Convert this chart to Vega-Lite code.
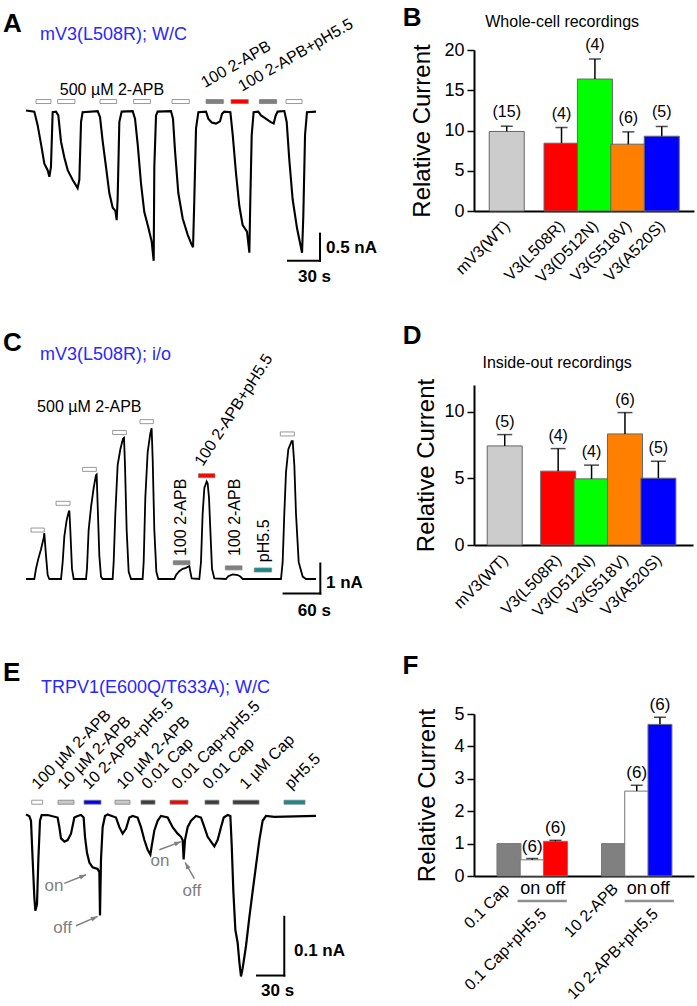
{
"$schema": "https://vega.github.io/schema/vega-lite/v6.json",
"padding": {"left": 2, "top": 5, "right": 5, "bottom": 3},
"background": "white",
"bounds": "flush",
"align": "each",
"columns": 2,
"spacing": {"row": 10, "column": 148},
"resolve": {"scale": {"fill": "independent"}},
"config": {
 "font": "Liberation Sans",
 "view": {"stroke": null},
 "text": {"font": "Liberation Sans", "fontSize": 16, "color": "black"},
 "axis": {"domainColor": "black", "domainWidth": 2, "tickColor": "black", "tickWidth": 1.5, "labelColor": "black", "labelFont": "Liberation Sans", "labelFontSize": 18, "titleColor": "black", "titleFont": "Liberation Sans", "titleFontSize": 24, "titleFontWeight": "normal", "grid": false}
},
"datasets": {
 "aTrace": [{"t":0,"i":0},{"t":7.8,"i":-0.02},{"t":10.9,"i":-0.27},{"t":14.1,"i":-0.62},{"t":17.2,"i":-0.98},{"t":20.3,"i":-1.10},{"t":21.9,"i":-1.22},{"t":23.4,"i":-1.04},{"t":25.0,"i":-0.03},{"t":28.1,"i":-0.02},{"t":30.3,"i":-0.09},{"t":32.8,"i":-0.57},{"t":35.9,"i":-0.86},{"t":39.1,"i":-1.10},{"t":43.8,"i":-1.28},{"t":48.4,"i":-1.43},{"t":50.0,"i":-1.28},{"t":51.6,"i":-0.21},{"t":53.1,"i":-0.03},{"t":67.2,"i":-0.01},{"t":69.4,"i":-0.12},{"t":71.9,"i":-0.57},{"t":75.0,"i":-1.04},{"t":78.1,"i":-1.52},{"t":81.3,"i":-1.79},{"t":83.8,"i":-1.85},{"t":85.0,"i":-2.02},{"t":85.9,"i":-1.64},{"t":87.5,"i":-0.21},{"t":89.7,"i":-0.02},{"t":100.0,"i":-0.01},{"t":102.2,"i":-0.15},{"t":104.7,"i":-0.62},{"t":107.8,"i":-1.34},{"t":110.9,"i":-1.87},{"t":114.1,"i":-2.11},{"t":117.8,"i":-2.41},{"t":119.7,"i":-2.77},{"t":120.3,"i":-1.04},{"t":121.9,"i":-0.09},{"t":123.4,"i":-0.02},{"t":135.9,"i":-0.01},{"t":137.8,"i":-0.15},{"t":139.7,"i":-0.74},{"t":142.8,"i":-1.52},{"t":146.9,"i":-1.99},{"t":151.6,"i":-2.29},{"t":155.3,"i":-2.47},{"t":156.6,"i":-2.52},{"t":157.8,"i":-1.64},{"t":159.4,"i":-0.33},{"t":161.6,"i":-0.03},{"t":168.8,"i":-0.02},{"t":170.9,"i":-0.15},{"t":174.1,"i":-0.22},{"t":178.1,"i":-0.24},{"t":181.9,"i":-0.20},{"t":183.8,"i":-0.06},{"t":185.9,"i":-0.02},{"t":191.6,"i":-0.03},{"t":193.8,"i":-0.45},{"t":196.9,"i":-1.16},{"t":200.0,"i":-1.76},{"t":203.1,"i":-2.11},{"t":207.2,"i":-2.23},{"t":209.4,"i":-2.62},{"t":210.3,"i":-1.64},{"t":211.6,"i":-0.45},{"t":213.4,"i":-0.03},{"t":217.8,"i":-0.02},{"t":220.3,"i":-0.09},{"t":224.1,"i":-0.14},{"t":229.1,"i":-0.21},{"t":232.2,"i":-0.24},{"t":234.1,"i":-0.09},{"t":235.9,"i":-0.02},{"t":242.2,"i":-0.01},{"t":244.4,"i":-0.21},{"t":246.9,"i":-0.92},{"t":250.0,"i":-1.64},{"t":254.1,"i":-2.17},{"t":257.2,"i":-2.47},{"t":258.8,"i":-2.62},{"t":260.0,"i":-1.93},{"t":261.6,"i":-0.45},{"t":263.4,"i":-0.03},{"t":271.9,"i":-0.02}],
 "aStim": [{"t":9.4,"t2":23.4,"i":0.166,"kind":"open"},{"t":29.7,"t2":45.9,"i":0.166,"kind":"open"},{"t":69.4,"t2":85.0,"i":0.166,"kind":"open"},{"t":100.9,"t2":116.6,"i":0.166,"kind":"open"},{"t":136.9,"t2":153.1,"i":0.166,"kind":"open"},{"t":168.8,"t2":185.0,"i":0.166,"kind":"gray"},{"t":192.2,"t2":208.4,"i":0.166,"kind":"red"},{"t":218.8,"t2":235.0,"i":0.166,"kind":"gray"},{"t":243.8,"t2":258.8,"i":0.166,"kind":"open"}],
 "cTrace": [{"t":0,"i":0},{"t":13.6,"i":0},{"t":16.3,"i":0.34},{"t":20.1,"i":0.67},{"t":24.5,"i":0.99},{"t":28.9,"i":1.37},{"t":29.9,"i":1.53},{"t":32.7,"i":0.77},{"t":35.4,"i":0.13},{"t":38.1,"i":0},{"t":57.2,"i":0},{"t":59.9,"i":0.56},{"t":62.6,"i":1.42},{"t":66.4,"i":1.96},{"t":69.7,"i":2.23},{"t":70.8,"i":2.28},{"t":72.4,"i":1.63},{"t":75.1,"i":0.34},{"t":77.9,"i":0},{"t":98.0,"i":0},{"t":99.6,"i":0.34},{"t":102.3,"i":1.63},{"t":106.2,"i":2.39},{"t":110.5,"i":3.03},{"t":114.3,"i":3.46},{"t":115.4,"i":3.48},{"t":117.0,"i":2.49},{"t":119.8,"i":0.77},{"t":122.5,"i":0.08},{"t":125.2,"i":0},{"t":141.5,"i":0},{"t":143.2,"i":0.56},{"t":145.9,"i":2.17},{"t":149.7,"i":3.79},{"t":154.1,"i":4.32},{"t":158.4,"i":4.67},{"t":160.1,"i":4.70},{"t":161.7,"i":3.79},{"t":164.4,"i":1.63},{"t":167.7,"i":0.24},{"t":171.5,"i":0},{"t":190.5,"i":0},{"t":192.2,"i":0.56},{"t":194.9,"i":2.71},{"t":198.7,"i":4.22},{"t":203.1,"i":4.86},{"t":205.2,"i":5.02},{"t":206.9,"i":4.0},{"t":209.6,"i":1.63},{"t":212.9,"i":0.24},{"t":216.1,"i":0},{"t":242.3,"i":0},{"t":245.0,"i":0.13},{"t":250.4,"i":0.26},{"t":255.9,"i":0.34},{"t":261.3,"i":0.37},{"t":266.8,"i":0.43},{"t":268.4,"i":0.24},{"t":270.6,"i":0.02},{"t":283.1,"i":0},{"t":285.8,"i":0.56},{"t":288.5,"i":2.17},{"t":291.3,"i":3.03},{"t":295.1,"i":3.25},{"t":296.7,"i":3.19},{"t":298.9,"i":2.71},{"t":301.1,"i":1.63},{"t":303.8,"i":0.34},{"t":307.6,"i":0.02},{"t":326.6,"i":0},{"t":330.4,"i":0.09},{"t":337.5,"i":0.15},{"t":345.7,"i":0.13},{"t":350.1,"i":0.08},{"t":353.9,"i":0},{"t":416.5,"i":0},{"t":419.2,"i":0.56},{"t":421.9,"i":2.17},{"t":424.7,"i":3.57},{"t":428.5,"i":4.32},{"t":433.9,"i":4.59},{"t":435.6,"i":4.59},{"t":438.3,"i":3.79},{"t":441.0,"i":2.17},{"t":445.4,"i":0.56},{"t":451.9,"i":0.08},{"t":457.3,"i":0},{"t":473.6,"i":0}],
 "cStim": [{"t":8.2,"t2":29.9,"i":1.63,"kind":"open"},{"t":49.0,"t2":71.9,"i":2.52,"kind":"open"},{"t":92.5,"t2":114.9,"i":3.65,"kind":"open"},{"t":141.5,"t2":163.9,"i":4.88,"kind":"open"},{"t":186.2,"t2":208.0,"i":5.24,"kind":"open"},{"t":240.6,"t2":267.8,"i":0.54,"kind":"gray"},{"t":281.5,"t2":308.7,"i":3.44,"kind":"red"},{"t":325.6,"t2":352.8,"i":0.37,"kind":"gray"},{"t":372.9,"t2":401.2,"i":0.30,"kind":"teal"},{"t":415.4,"t2":438.3,"i":4.83,"kind":"open"}],
 "eTrace": [{"t":0,"i":0.0027},{"t":3.7,"i":-0.0005},{"t":5.5,"i":-0.0082},{"t":7.3,"i":-0.0738},{"t":9.2,"i":-0.1393},{"t":10.3,"i":-0.1612},{"t":12.1,"i":-0.1503},{"t":13.6,"i":-0.0738},{"t":15.4,"i":-0.0082},{"t":17.2,"i":0.0016},{"t":23.8,"i":0.0016},{"t":34.8,"i":-0.0027},{"t":36.7,"i":-0.0191},{"t":38.5,"i":-0.0382},{"t":42.2,"i":-0.0437},{"t":45.8,"i":-0.0410},{"t":49.5,"i":-0.0301},{"t":53.2,"i":-0.0027},{"t":56.8,"i":0},{"t":60.5,"i":0.0016},{"t":63.4,"i":-0.0027},{"t":64.9,"i":-0.0355},{"t":67.1,"i":-0.0628},{"t":69.7,"i":-0.0792},{"t":73.3,"i":-0.0874},{"t":78.8,"i":-0.0902},{"t":80.7,"i":-0.0956},{"t":81.4,"i":-0.1694},{"t":82.5,"i":-0.0738},{"t":84.3,"i":-0.0191},{"t":86.9,"i":0},{"t":89.8,"i":0.0027},{"t":99.0,"i":-0.0027},{"t":102.7,"i":-0.0191},{"t":106.3,"i":-0.0301},{"t":110.0,"i":-0.0219},{"t":113.7,"i":-0.0027},{"t":117.3,"i":0},{"t":122.8,"i":-0.0027},{"t":126.5,"i":-0.0191},{"t":130.2,"i":-0.0410},{"t":133.8,"i":-0.0574},{"t":136.8,"i":-0.0656},{"t":138.2,"i":-0.0519},{"t":141.2,"i":-0.0246},{"t":144.8,"i":-0.0082},{"t":148.5,"i":0},{"t":155.8,"i":-0.0027},{"t":161.3,"i":-0.0191},{"t":166.8,"i":-0.0301},{"t":170.5,"i":-0.0355},{"t":172.3,"i":-0.0410},{"t":173.4,"i":-0.0738},{"t":174.9,"i":-0.0410},{"t":177.8,"i":-0.0191},{"t":181.5,"i":-0.0082},{"t":187.0,"i":0},{"t":192.5,"i":-0.0027},{"t":196.2,"i":-0.0191},{"t":199.8,"i":-0.0355},{"t":203.5,"i":-0.0437},{"t":207.2,"i":-0.0519},{"t":210.8,"i":-0.0410},{"t":214.5,"i":-0.0191},{"t":217.5,"i":-0.0027},{"t":221.8,"i":0.0016},{"t":224.8,"i":0},{"t":226.2,"i":-0.0464},{"t":228.1,"i":-0.1284},{"t":230.3,"i":-0.1940},{"t":232.8,"i":-0.2158},{"t":234.7,"i":-0.2486},{"t":236.5,"i":-0.2732},{"t":238.3,"i":-0.2595},{"t":242.0,"i":-0.2213},{"t":245.7,"i":-0.1721},{"t":249.3,"i":-0.1284},{"t":253.0,"i":-0.0847},{"t":256.7,"i":-0.0410},{"t":260.3,"i":-0.0082},{"t":264.0,"i":0},{"t":273.2,"i":-0.0016},{"t":319.0,"i":0}],
 "eStim": [{"t":6.3,"t2":18.3,"i":0.0234,"kind":"open"},{"t":35.2,"t2":52.8,"i":0.0234,"kind":"light"},{"t":63.8,"t2":82.5,"i":0.0234,"kind":"blue"},{"t":97.9,"t2":114.4,"i":0.0234,"kind":"light"},{"t":126.5,"t2":141.9,"i":0.0234,"kind":"dark"},{"t":158.4,"t2":178.2,"i":0.0234,"kind":"red"},{"t":196.9,"t2":212.3,"i":0.0234,"kind":"dark"},{"t":227.7,"t2":256.3,"i":0.0234,"kind":"dark"},{"t":283.8,"t2":306.9,"i":0.0234,"kind":"teal"}],
 "bBars": [{"name":"mV3(WT)","p":0.83,"v":9.88,"e":10.54,"n":"(15)"},{"name":"V3(L508R)","p":2.47,"v":8.42,"e":10.37,"n":"(4)"},{"name":"V3(D512N)","p":3.47,"v":16.39,"e":18.88,"n":"(4)"},{"name":"V3(S518V)","p":4.47,"v":8.30,"e":9.83,"n":"(6)"},{"name":"V3(A520S)","p":5.47,"v":9.29,"e":10.50,"n":"(5)"}],
 "dBars": [{"name":"mV3(WT)","p":0.77,"v":7.43,"e":8.28,"n":"(5)"},{"name":"V3(L508R)","p":2.37,"v":5.54,"e":7.23,"n":"(4)"},{"name":"V3(D512N)","p":3.37,"v":4.96,"e":5.99,"n":"(4)"},{"name":"V3(S518V)","p":4.37,"v":8.33,"e":9.93,"n":"(6)"},{"name":"V3(A520S)","p":5.37,"v":5.01,"e":6.28,"n":"(5)"}],
 "fBars": [{"kind":"ctrl","p":1.29,"v":1.0,"e":null,"n":""},{"kind":"on","p":2.29,"v":0.50,"e":0.54,"n":"(6)"},{"kind":"offr","p":3.29,"v":1.07,"e":1.10,"n":"(6)"},{"kind":"ctrl","p":5.79,"v":1.0,"e":null,"n":""},{"kind":"on","p":6.79,"v":2.62,"e":2.80,"n":"(6)"},{"kind":"offb","p":7.79,"v":4.68,"e":4.90,"n":"(6)"}]
},
"concat": [
  {
   "width": 300, "height": 324.6,
   "encoding": {
    "x": {"field": "t", "type": "quantitative", "scale": {"domain": [0, 281.25], "nice": false, "zero": false}, "axis": null},
    "y": {"field": "i", "type": "quantitative", "scale": {"domain": [-4.774, 1.0234], "nice": false, "zero": false}, "axis": null}
   },
   "layer": [
    {"data": {"name": "aTrace"}, "mark": {"type": "line", "color": "black", "strokeWidth": 2.1}},
    {"data": {"name": "aStim"}, "mark": {"type": "bar", "orient": "horizontal", "height": 4, "stroke": "#808080", "strokeWidth": 0.8},
     "encoding": {"x2": {"field": "t2"}, "fill": {"field": "kind", "type": "nominal", "scale": {"domain": ["open","gray","light","dark","red","blue","teal"], "range": ["#ffffff","#808080","#c8c8c8","#3c3c3c","#ff0000","#0000ff","#138c8c"]}, "legend": null}}},
    {"data": {"values": [{"t": -21.6, "i": 1.452, "label": "A"}]}, "mark": {"type": "text", "align": "left", "baseline": "alphabetic", "fontSize": 26, "fontWeight": "bold"}, "encoding": {"text": {"field": "label"}}},
    {"data": {"values": [{"t": 13.1, "i": 1.309, "label": "mV3(L508R); W/C"}]}, "mark": {"type": "text", "align": "left", "baseline": "alphabetic", "fontSize": 18, "color": "#2828ff"}, "encoding": {"text": {"field": "label"}}},
    {"data": {"values": [{"t": 80.6, "i": 0.291, "label": "500 µM 2-APB"}]}, "mark": {"type": "text", "align": "center", "baseline": "alphabetic", "fontSize": 16}, "encoding": {"text": {"field": "label"}}},
    {"data": {"values": [{"t": 167.8, "i": 0.416, "label": "100 2-APB"}, {"t": 202.5, "i": 0.345, "label": "100 2-APB+pH5.5"}]}, "mark": {"type": "text", "align": "left", "baseline": "alphabetic", "fontSize": 16, "angle": 330}, "encoding": {"text": {"field": "label"}}},
    {"data": {"values": [{"t": 245.6, "t2": 275.6, "i": -2.768, "i2": -2.768}, {"t": 275.6, "t2": 275.6, "i": -2.768, "i2": -2.268}]}, "mark": {"type": "rule", "color": "black", "strokeWidth": 2, "strokeCap": "square"}, "encoding": {"x2": {"field": "t2"}, "y2": {"field": "i2"}}},
    {"data": {"values": [{"t": 281.25, "i": -2.53, "label": "0.5 nA"}]}, "mark": {"type": "text", "align": "left", "baseline": "middle", "fontSize": 17, "fontWeight": "bold"}, "encoding": {"text": {"field": "label"}}},
    {"data": {"values": [{"t": 270.5, "i": -3.06, "label": "30 s"}]}, "mark": {"type": "text", "align": "center", "baseline": "middle", "fontSize": 17, "fontWeight": "bold"}, "encoding": {"text": {"field": "label"}}}
   ]
  },
  {
   "width": 220, "height": 161,
   "encoding": {
    "x": {"field": "p", "type": "quantitative", "scale": {"domain": [0, 6.286], "nice": false, "zero": false}, "axis": {"values": [0.83, 2.47, 3.47, 4.47, 5.47], "labelExpr": "datum.value < 1.5 ? 'mV3(WT)' : datum.value < 3 ? 'V3(L508R)' : datum.value < 4 ? 'V3(D512N)' : datum.value < 5 ? 'V3(S518V)' : 'V3(A520S)'", "ticks": false, "labelAngle": -45, "labelAlign": "right", "labelBaseline": "middle", "labelPadding": 12, "labelFontSize": 16, "title": null, "labelOverlap": false, "labelBound": false, "labelFlush": false}},
    "y": {"field": "v", "type": "quantitative", "scale": {"domain": [0, 20], "nice": false, "zero": false}, "axis": {"values": [0, 5, 10, 15, 20], "tickSize": 7, "title": "Relative Current", "titlePadding": 9, "labelPadding": 3}}
   },
   "layer": [
    {"data": {"name": "bBars"}, "mark": {"type": "bar", "orient": "vertical", "width": 35, "stroke": "#666666", "strokeWidth": 1},
     "encoding": {"fill": {"field": "name", "type": "nominal", "scale": {"domain": ["mV3(WT)", "V3(L508R)", "V3(D512N)", "V3(S518V)", "V3(A520S)"], "range": ["#cccccc", "#ff0000", "#00ff00", "#ff8000", "#0000ff"]}, "legend": null}}},
    {"data": {"name": "bBars"}, "mark": {"type": "rule", "color": "black", "strokeWidth": 1.5}, "encoding": {"y2": {"field": "e"}}},
    {"data": {"name": "bBars"}, "mark": {"type": "tick", "orient": "horizontal", "size": 12, "thickness": 1.5, "color": "black"}, "encoding": {"y": {"field": "e", "type": "quantitative", "scale": {"domain": [0, 20], "nice": false, "zero": false}, "axis": {"values": [0, 5, 10, 15, 20], "tickSize": 7, "title": "Relative Current", "titlePadding": 9, "labelPadding": 3}}}},
    {"data": {"name": "bBars"}, "mark": {"type": "text", "baseline": "bottom", "dy": -6, "fontSize": 16}, "encoding": {"y": {"field": "e", "type": "quantitative", "scale": {"domain": [0, 20], "nice": false, "zero": false}, "axis": {"values": [0, 5, 10, 15, 20], "tickSize": 7, "title": "Relative Current", "titlePadding": 9, "labelPadding": 3}}, "text": {"field": "n"}}},
    {"data": {"values": [{"v": 2.5}, {"v": 7.5}, {"v": 12.5}, {"v": 17.5}]}, "mark": {"type": "rule", "color": "black", "strokeWidth": 1.5}, "encoding": {"x": {"datum": -0.12, "type": "quantitative", "scale": {"domain": [0, 6.286], "nice": false, "zero": false}, "axis": {"values": [0.83, 2.47, 3.47, 4.47, 5.47], "labelExpr": "datum.value < 1.5 ? 'mV3(WT)' : datum.value < 3 ? 'V3(L508R)' : datum.value < 4 ? 'V3(D512N)' : datum.value < 5 ? 'V3(S518V)' : 'V3(A520S)'", "ticks": false, "labelAngle": -45, "labelAlign": "right", "labelBaseline": "middle", "labelPadding": 12, "labelFontSize": 16, "title": null, "labelOverlap": false, "labelBound": false, "labelFlush": false}}, "x2": {"datum": 0}}},
    {"data": {"values": [{"p": 2.49, "v": 22.86, "label": "Whole-cell recordings"}]}, "mark": {"type": "text", "align": "center", "baseline": "alphabetic", "fontSize": 16}, "encoding": {"text": {"field": "label"}}},
    {"data": {"values": [{"p": -2.286, "v": 22.98, "label": "B"}]}, "mark": {"type": "text", "align": "left", "baseline": "alphabetic", "fontSize": 26, "fontWeight": "bold"}, "encoding": {"text": {"field": "label"}}}
   ]
  },
  {
   "width": 300, "height": 318.7,
   "encoding": {
    "x": {"field": "t", "type": "quantitative", "scale": {"domain": [0, 490], "nice": false, "zero": false}, "axis": null},
    "y": {"field": "i", "type": "quantitative", "scale": {"domain": [-3.987, 6.294], "nice": false, "zero": false}, "axis": null}
   },
   "layer": [
    {"data": {"name": "cTrace"}, "mark": {"type": "line", "color": "black", "strokeWidth": 1.8}},
    {"data": {"name": "cStim"}, "mark": {"type": "bar", "orient": "horizontal", "height": 4, "stroke": "#808080", "strokeWidth": 0.8},
     "encoding": {"x2": {"field": "t2"}, "fill": {"field": "kind", "type": "nominal", "scale": {"domain": ["open","gray","light","dark","red","blue","teal"], "range": ["#ffffff","#808080","#c8c8c8","#3c3c3c","#ff0000","#0000ff","#138c8c"]}, "legend": null}}},
    {"data": {"values": [{"t": -37.6, "i": 7.604, "label": "C"}]}, "mark": {"type": "text", "align": "left", "baseline": "alphabetic", "fontSize": 26, "fontWeight": "bold"}, "encoding": {"text": {"field": "label"}}},
    {"data": {"values": [{"t": 22.9, "i": 7.282, "label": "mV3(L508R); i/o"}]}, "mark": {"type": "text", "align": "left", "baseline": "alphabetic", "fontSize": 18, "color": "#2828ff"}, "encoding": {"text": {"field": "label"}}},
    {"data": {"values": [{"t": 103.4, "i": 5.562, "label": "500 µM 2-APB"}]}, "mark": {"type": "text", "align": "center", "baseline": "alphabetic", "fontSize": 16}, "encoding": {"text": {"field": "label"}}},
    {"data": {"values": [{"t": 253.2, "i": 0.765, "label": "100 2-APB"}, {"t": 341.4, "i": 0.765, "label": "100 2-APB"}, {"t": 389.2, "i": 0.561, "label": "pH5.5"}]}, "mark": {"type": "text", "align": "left", "baseline": "middle", "fontSize": 16, "angle": 270}, "encoding": {"text": {"field": "label"}}},
    {"data": {"values": [{"t": 288.6, "i": 3.733, "label": "100 2-APB+pH5.5"}]}, "mark": {"type": "text", "align": "left", "baseline": "alphabetic", "fontSize": 16, "angle": 303}, "encoding": {"text": {"field": "label"}}},
    {"data": {"values": [{"t": 420.7, "t2": 480.7, "i": -0.484, "i2": -0.484}, {"t": 480.7, "t2": 480.7, "i": -0.484, "i2": 0.516}]}, "mark": {"type": "rule", "color": "black", "strokeWidth": 2, "strokeCap": "square"}, "encoding": {"x2": {"field": "t2"}, "y2": {"field": "i2"}}},
    {"data": {"values": [{"t": 490, "i": -0.139, "label": "1 nA"}]}, "mark": {"type": "text", "align": "left", "baseline": "middle", "fontSize": 17, "fontWeight": "bold"}, "encoding": {"text": {"field": "label"}}},
    {"data": {"values": [{"t": 470.9, "i": -1.052, "label": "60 s"}]}, "mark": {"type": "text", "align": "center", "baseline": "middle", "fontSize": 17, "fontWeight": "bold"}, "encoding": {"text": {"field": "label"}}}
   ]
  },
  {
   "width": 219, "height": 160,
   "encoding": {
    "x": {"field": "p", "type": "quantitative", "scale": {"domain": [0, 6.257], "nice": false, "zero": false}, "axis": {"values": [0.77, 2.37, 3.37, 4.37, 5.37], "labelExpr": "datum.value < 1.5 ? 'mV3(WT)' : datum.value < 3 ? 'V3(L508R)' : datum.value < 4 ? 'V3(D512N)' : datum.value < 5 ? 'V3(S518V)' : 'V3(A520S)'", "ticks": false, "labelAngle": -45, "labelAlign": "right", "labelBaseline": "middle", "labelPadding": 12, "labelFontSize": 16, "title": null, "labelOverlap": false, "labelBound": false, "labelFlush": false}},
    "y": {"field": "v", "type": "quantitative", "scale": {"domain": [0, 12], "nice": false, "zero": false}, "axis": {"values": [0, 5, 10], "tickSize": 7, "title": "Relative Current", "titlePadding": 5, "labelPadding": 3}}
   },
   "layer": [
    {"data": {"name": "dBars"}, "mark": {"type": "bar", "orient": "vertical", "width": 35, "stroke": "#666666", "strokeWidth": 1},
     "encoding": {"fill": {"field": "name", "type": "nominal", "scale": {"domain": ["mV3(WT)", "V3(L508R)", "V3(D512N)", "V3(S518V)", "V3(A520S)"], "range": ["#cccccc", "#ff0000", "#00ff00", "#ff8000", "#0000ff"]}, "legend": null}}},
    {"data": {"name": "dBars"}, "mark": {"type": "rule", "color": "black", "strokeWidth": 1.5}, "encoding": {"y2": {"field": "e"}}},
    {"data": {"name": "dBars"}, "mark": {"type": "tick", "orient": "horizontal", "size": 15, "thickness": 1.5, "color": "black"}, "encoding": {"y": {"field": "e", "type": "quantitative", "scale": {"domain": [0, 12], "nice": false, "zero": false}, "axis": {"values": [0, 5, 10], "tickSize": 7, "title": "Relative Current", "titlePadding": 5, "labelPadding": 3}}}},
    {"data": {"name": "dBars"}, "mark": {"type": "text", "baseline": "bottom", "dy": -5, "fontSize": 16}, "encoding": {"y": {"field": "e", "type": "quantitative", "scale": {"domain": [0, 12], "nice": false, "zero": false}, "axis": {"values": [0, 5, 10], "tickSize": 7, "title": "Relative Current", "titlePadding": 5, "labelPadding": 3}}, "text": {"field": "n"}}},
    {"data": {"values": [{"v": 2.5}, {"v": 7.5}]}, "mark": {"type": "rule", "color": "black", "strokeWidth": 1.5}, "encoding": {"x": {"datum": -0.12, "type": "quantitative", "scale": {"domain": [0, 6.257], "nice": false, "zero": false}, "axis": {"values": [0.77, 2.37, 3.37, 4.37, 5.37], "labelExpr": "datum.value < 1.5 ? 'mV3(WT)' : datum.value < 3 ? 'V3(L508R)' : datum.value < 4 ? 'V3(D512N)' : datum.value < 5 ? 'V3(S518V)' : 'V3(A520S)'", "ticks": false, "labelAngle": -45, "labelAlign": "right", "labelBaseline": "middle", "labelPadding": 12, "labelFontSize": 16, "title": null, "labelOverlap": false, "labelBound": false, "labelFlush": false}}, "x2": {"datum": 0}}},
    {"data": {"values": [{"p": 2.34, "v": 13.25, "label": "Inside-out recordings"}]}, "mark": {"type": "text", "align": "center", "baseline": "alphabetic", "fontSize": 16}, "encoding": {"text": {"field": "label"}}},
    {"data": {"values": [{"p": -2.286, "v": 15.05, "label": "D"}]}, "mark": {"type": "text", "align": "left", "baseline": "alphabetic", "fontSize": 26, "fontWeight": "bold"}, "encoding": {"text": {"field": "label"}}}
   ]
  },
  {
   "width": 300, "height": 270,
   "encoding": {
    "x": {"field": "t", "type": "quantitative", "scale": {"domain": [0, 330], "nice": false, "zero": false}, "axis": null},
    "y": {"field": "i", "type": "quantitative", "scale": {"domain": [-0.2775, 0.16505], "nice": false, "zero": false}, "axis": null}
   },
   "layer": [
    {"data": {"name": "eTrace"}, "mark": {"type": "line", "color": "black", "strokeWidth": 2.2}},
    {"data": {"name": "eStim"}, "mark": {"type": "bar", "orient": "horizontal", "height": 4, "stroke": "#808080", "strokeWidth": 0.8},
     "encoding": {"x2": {"field": "t2"}, "fill": {"field": "kind", "type": "nominal", "scale": {"domain": ["open","gray","light","dark","red","blue","teal"], "range": ["#ffffff","#808080","#c8c8c8","#3c3c3c","#ff0000","#0000ff","#138c8c"]}, "legend": null}}},
    {"data": {"values": [{"t": -25.3, "i": 0.2295, "label": "E"}]}, "mark": {"type": "text", "align": "left", "baseline": "alphabetic", "fontSize": 26, "fontWeight": "bold"}, "encoding": {"text": {"field": "label"}}},
    {"data": {"values": [{"t": 16.5, "i": 0.2098, "label": "TRPV1(E600Q/T633A); W/C"}]}, "mark": {"type": "text", "align": "left", "baseline": "alphabetic", "fontSize": 18, "color": "#2828ff"}, "encoding": {"text": {"field": "label"}}},
    {"data": {"values": [{"t": 13.2, "i": 0.0443, "label": "100 µM 2-APB"}, {"t": 41.8, "i": 0.0443, "label": "10 µM 2-APB"}, {"t": 69.3, "i": 0.0443, "label": "10 2-APB+pH5.5"}, {"t": 106.7, "i": 0.0443, "label": "10 µM 2-APB"}, {"t": 134.2, "i": 0.0443, "label": "0.01 Cap"}, {"t": 167.2, "i": 0.0443, "label": "0.01 Cap+pH5.5"}, {"t": 201.3, "i": 0.0443, "label": "0.01 Cap"}, {"t": 242.0, "i": 0.0443, "label": "1 µM Cap"}, {"t": 291.5, "i": 0.0443, "label": "pH5.5"}]}, "mark": {"type": "text", "align": "left", "baseline": "alphabetic", "fontSize": 16, "angle": 315}, "encoding": {"text": {"field": "label"}}},
    {"data": {"values": [{"t": 254.1, "t2": 284.1, "i": -0.2716, "i2": -0.2716}, {"t": 284.1, "t2": 284.1, "i": -0.2716, "i2": -0.1716}]}, "mark": {"type": "rule", "color": "black", "strokeWidth": 2, "strokeCap": "square"}, "encoding": {"x2": {"field": "t2"}, "y2": {"field": "i2"}}},
    {"data": {"values": [{"t": 294.8, "i": -0.2295, "label": "0.1 nA"}]}, "mark": {"type": "text", "align": "left", "baseline": "middle", "fontSize": 17, "fontWeight": "bold"}, "encoding": {"text": {"field": "label"}}},
    {"data": {"values": [{"t": 276.8, "i": -0.2978, "label": "30 s"}]}, "mark": {"type": "text", "align": "center", "baseline": "middle", "fontSize": 17, "fontWeight": "bold"}, "encoding": {"text": {"field": "label"}}},
    {"data": {"values": [{"t": 30.8, "i": -0.1197, "label": "on"}, {"t": 40.3, "i": -0.190, "label": "off"}, {"t": 147.4, "i": -0.0765, "label": "on"}, {"t": 182.4, "i": -0.1278, "label": "off"}]}, "mark": {"type": "text", "align": "center", "baseline": "middle", "fontSize": 17, "color": "#808080"}, "encoding": {"text": {"field": "label"}}},
    {"data": {"values": [{"t": 42.1, "t2": 66.0, "i": -0.1147, "i2": -0.1000}, {"t": 55.0, "t2": 78.8, "i": -0.1868, "i2": -0.1710}, {"t": 146.7, "t2": 170.5, "i": -0.0574, "i2": -0.0437}, {"t": 185.2, "t2": 175.1, "i": -0.1065, "i2": -0.0792}]}, "mark": {"type": "rule", "color": "#808080", "strokeWidth": 1.5}, "encoding": {"x2": {"field": "t2"}, "y2": {"field": "i2"}}},
    {"data": {"values": [{"t": 66.0, "i": -0.1000, "dir": 67}, {"t": 78.8, "i": -0.1710, "dir": 66}, {"t": 170.5, "i": -0.0437, "dir": 69}, {"t": 175.1, "i": -0.0792, "dir": 331}]}, "mark": {"type": "point", "shape": "M0,0L-0.55,1.5L0.55,1.5Z", "filled": true, "color": "#808080", "size": 80, "opacity": 1}, "encoding": {"angle": {"field": "dir", "type": "quantitative", "scale": null}}}
   ]
  },
  {
   "width": 220, "height": 162,
   "encoding": {
    "x": {"field": "p", "type": "quantitative", "scale": {"domain": [0, 9.04], "nice": false, "zero": false}, "axis": {"labels": false, "ticks": false, "title": null}},
    "y": {"field": "v", "type": "quantitative", "scale": {"domain": [0, 5], "nice": false, "zero": false}, "axis": {"values": [0, 1, 2, 3, 4, 5], "tickSize": 7, "title": "Relative Current", "titlePadding": 14, "labelPadding": 3}}
   },
   "layer": [
    {"data": {"name": "fBars"}, "mark": {"type": "bar", "orient": "vertical", "width": 24, "stroke": "#777777", "strokeWidth": 1},
     "encoding": {"fill": {"field": "kind", "type": "nominal", "scale": {"domain": ["ctrl", "on", "offr", "offb"], "range": ["#808080", "#ffffff", "#ff0000", "#0000ff"]}, "legend": null}}},
    {"data": {"name": "fBars"}, "transform": [{"filter": "isValid(datum.e)"}], "mark": {"type": "rule", "color": "black", "strokeWidth": 1.5}, "encoding": {"y2": {"field": "e"}}},
    {"data": {"name": "fBars"}, "transform": [{"filter": "isValid(datum.e)"}], "mark": {"type": "tick", "orient": "horizontal", "size": 12, "thickness": 1.5, "color": "black"}, "encoding": {"y": {"field": "e", "type": "quantitative", "scale": {"domain": [0, 5], "nice": false, "zero": false}, "axis": {"values": [0, 1, 2, 3, 4, 5], "tickSize": 7, "title": "Relative Current", "titlePadding": 14, "labelPadding": 3}}}},
    {"data": {"name": "fBars"}, "transform": [{"filter": "isValid(datum.e)"}], "mark": {"type": "text", "baseline": "bottom", "dy": -3, "fontSize": 17}, "encoding": {"y": {"field": "e", "type": "quantitative", "scale": {"domain": [0, 5], "nice": false, "zero": false}, "axis": {"values": [0, 1, 2, 3, 4, 5], "tickSize": 7, "title": "Relative Current", "titlePadding": 14, "labelPadding": 3}}, "text": {"field": "n"}}},
    {"data": {"values": [{"v": 0.5}, {"v": 1.5}, {"v": 2.5}, {"v": 3.5}, {"v": 4.5}]}, "mark": {"type": "rule", "color": "black", "strokeWidth": 1.5}, "encoding": {"x": {"datum": -0.17, "type": "quantitative", "scale": {"domain": [0, 9.04], "nice": false, "zero": false}, "axis": {"labels": false, "ticks": false, "title": null}}, "x2": {"datum": 0}}},
    {"data": {"values": [{"p": 2.21, "v": -0.565, "label": "on"}, {"p": 3.29, "v": -0.565, "label": "off"}, {"p": 6.79, "v": -0.565, "label": "on"}, {"p": 7.79, "v": -0.565, "label": "off"}]}, "mark": {"type": "text", "align": "center", "baseline": "alphabetic", "fontSize": 18}, "encoding": {"text": {"field": "label"}}},
    {"data": {"values": [{"p": 1.66, "p2": 3.78, "v": -0.77}, {"p": 6.27, "p2": 8.39, "v": -0.77}]}, "mark": {"type": "rule", "color": "#909090", "strokeWidth": 2.5}, "encoding": {"x2": {"field": "p2"}}},
    {"data": {"values": [{"p": 1.19, "v": -0.32, "label": "0.1 Cap"}, {"p": 5.875, "v": -0.32, "label": "10 2-APB"}, {"p": 2.79, "v": -1.09, "label": "0.1 Cap+pH5.5"}, {"p": 7.6, "v": -1.09, "label": "10 2-APB+pH5.5"}]}, "mark": {"type": "text", "align": "right", "baseline": "middle", "fontSize": 16, "angle": 315}, "encoding": {"text": {"field": "label"}}},
    {"data": {"values": [{"p": -3.29, "v": 6.225, "label": "F"}]}, "mark": {"type": "text", "align": "left", "baseline": "alphabetic", "fontSize": 26, "fontWeight": "bold"}, "encoding": {"text": {"field": "label"}}}
   ]
  }
]
}
